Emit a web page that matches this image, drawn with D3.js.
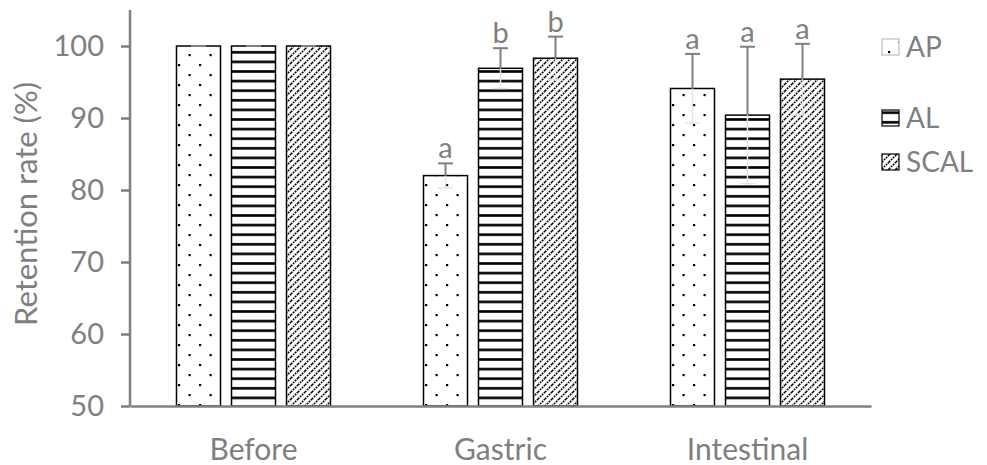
<!DOCTYPE html>
<html>
<head>
<meta charset="utf-8">
<script src="https://cdn.jsdelivr.net/npm/d3@7"></script>
<style>
  html, body { margin: 0; padding: 0; background: #fff; }
  svg { display: block; }
  text { font-family: Lato, "Open Sans", sans-serif; fill: #7f7f7f; }
</style>
</head>
<body>
<svg id="chart" width="987" height="465"></svg>
<script>
// Retention (%) of the three formulations before and after digestion
const categories = ["Before", "Gastric", "Intestinal"];
const series = ["AP", "AL", "SCAL"];
const apValues = [100, 82.0, 94.1];
const alValues = [100, 96.9, 90.4];
const scalValues = [100, 98.3, 95.4];
const apErrors = [0, 1.7, 4.8];
const alErrors = [0, 2.8, 9.5];
const scalErrors = [0, 3.0, 4.9];
const apLetters = ["", "a", "a"];
const alLetters = ["", "b", "a"];
const scalLetters = ["", "b", "a"];
const yTicks = [50, 60, 70, 80, 90, 100];
const yTitle = "Retention rate (%)";

const values = { AP: apValues, AL: alValues, SCAL: scalValues };
const errors = { AP: apErrors, AL: alErrors, SCAL: scalErrors };
const letters = { AP: apLetters, AL: alLetters, SCAL: scalLetters };

const svg = d3.select("#chart");
const plot = { left: 130, right: 871, top: 10, bottom: 406 };
const grey = "#808080";

// Hatch fills for each series
const defs = svg.append("defs");
const dots = defs.append("pattern").attr("id", "fill-AP")
  .attr("patternUnits", "userSpaceOnUse").attr("width", 21).attr("height", 20);
dots.append("rect").attr("width", 21).attr("height", 20).attr("fill", "#fff");
dots.append("rect").attr("x", 6).attr("y", 4).attr("width", 2.2).attr("height", 2.2).attr("fill", "#000");
dots.append("rect").attr("x", 16.5).attr("y", 14).attr("width", 2.2).attr("height", 2.2).attr("fill", "#000");

const stripes = defs.append("pattern").attr("id", "fill-AL")
  .attr("patternUnits", "userSpaceOnUse").attr("width", 10).attr("height", 9.6);
stripes.append("rect").attr("width", 10).attr("height", 9.6).attr("fill", "#fff");
stripes.append("rect").attr("x", 0).attr("y", 3).attr("width", 10).attr("height", 2.6).attr("fill", "#000");

const diag = defs.append("pattern").attr("id", "fill-SCAL")
  .attr("patternUnits", "userSpaceOnUse").attr("width", 7).attr("height", 7);
diag.append("rect").attr("width", 7).attr("height", 7).attr("fill", "#fff");
diag.append("path").attr("d", "M-1,1 L1,-1 M0,7 L7,0 M6,8 L8,6")
  .attr("stroke", "#000").attr("stroke-width", 1.7).attr("stroke-dasharray", "1.8,1");

// Scales
const y = d3.scaleLinear().domain([50, 105]).range([plot.bottom, plot.top]);
const x0 = d3.scaleBand().domain(categories).range([plot.left, plot.right]).padding(0);
const half = x0.bandwidth() / 2;
const x1 = d3.scaleBand().domain(series).range([half - 77, half + 77]).paddingInner(0.2).paddingOuter(0);

// Bars
const groups = svg.append("g").selectAll("g").data(categories).join("g")
  .attr("transform", d => `translate(${x0(d)},0)`);

series.forEach(s => {
  groups.append("rect")
    .attr("x", x1(s))
    .attr("width", x1.bandwidth())
    .attr("y", (d, i) => y(values[s][i]))
    .attr("height", (d, i) => y(50) - y(values[s][i]))
    .attr("fill", `url(#fill-${s})`)
    .attr("stroke", "#000")
    .attr("stroke-width", 1.5);
});

// Error bars: lower half faint over the bar, upper half grey
series.forEach(s => {
  const cx = x1(s) + x1.bandwidth() / 2;
  groups.each(function (d, i) {
    const g = d3.select(this);
    const v = values[s][i], e = errors[s][i];
    if (e > 0) {
      g.append("line").attr("x1", cx).attr("x2", cx)
        .attr("y1", y(v)).attr("y2", y(v - e))
        .attr("stroke", "#e4e4e4").attr("stroke-width", 1.5);
      g.append("line").attr("x1", cx - 7.5).attr("x2", cx + 7.5)
        .attr("y1", y(v - e)).attr("y2", y(v - e))
        .attr("stroke", "#e4e4e4").attr("stroke-width", 1.5);
      g.append("line").attr("x1", cx).attr("x2", cx)
        .attr("y1", y(v)).attr("y2", y(v + e))
        .attr("stroke", grey).attr("stroke-width", 2);
    }
    g.append("line").attr("x1", cx - 7.5).attr("x2", cx + 7.5)
      .attr("y1", y(v + e)).attr("y2", y(v + e))
      .attr("stroke", grey).attr("stroke-width", 2);
    if (letters[s][i]) {
      g.append("text").attr("x", cx).attr("y", y(v + e) - 5)
        .attr("text-anchor", "middle").attr("font-size", 29)
        .text(letters[s][i]);
    }
  });
});

// Y axis
const yAxis = d3.axisLeft(y).tickValues(yTicks).tickSize(9).tickPadding(17);
const ya = svg.append("g").attr("transform", `translate(${plot.left},0)`).call(yAxis);
ya.select(".domain").attr("stroke", grey).attr("stroke-width", 2.5)
  .attr("d", `M0,${plot.bottom}V${plot.top}`);
ya.selectAll(".tick line").attr("stroke", grey).attr("stroke-width", 2.5);
ya.selectAll(".tick text").attr("fill", grey).attr("font-size", 29)
  .style("font-family", "Lato, sans-serif");

// X axis
const xAxis = d3.axisBottom(x0).tickSize(0).tickPadding(33);
const xa = svg.append("g").attr("transform", `translate(0,${plot.bottom})`).call(xAxis);
xa.select(".domain").attr("stroke", grey).attr("stroke-width", 2.5);
xa.selectAll(".tick text").attr("fill", grey).attr("font-size", 30)
  .style("font-family", "Lato, sans-serif");

// Y axis title
svg.append("text")
  .attr("transform", `translate(37,${(plot.top + plot.bottom) / 2 - 4}) rotate(-90)`)
  .attr("text-anchor", "middle").attr("font-size", 31)
  .text(yTitle);

// Legend
const legendY = [47, 118, 162];
const legend = svg.append("g").selectAll("g").data(series).join("g")
  .attr("transform", (d, i) => `translate(882,${legendY[i]})`);
legend.append("rect").attr("x", 0).attr("y", -8).attr("width", 17).attr("height", 16)
  .attr("fill", d => `url(#fill-${d})`)
  .attr("stroke", d => d === "AP" ? "#bfbfbf" : "#000").attr("stroke-width", 1.2);
legend.append("text").attr("x", 24).attr("y", 0).attr("dy", "0.35em")
  .attr("font-size", 28).text(d => d);
</script>
</body>
</html>
